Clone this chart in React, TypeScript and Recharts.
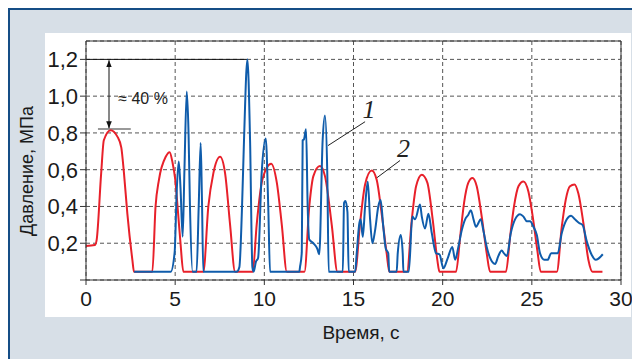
import React from 'react';
import { LineChart, Line, XAxis, YAxis, CartesianGrid, ReferenceLine, ReferenceDot } from 'recharts';

// curve 2 (red): time, s / pressure, MPa
const redT = [0, 0.5, 0.6, 0.85, 1.0, 1.38, 1.76, 1.98, 2.13, 2.32, 2.6, 2.69, 3.72, 3.9, 4.09, 4.47, 4.69, 4.85, 5.0, 5.15, 5.3, 5.46,
  6.58, 6.86, 7.14, 7.52, 7.8, 8.08, 8.36, 9.35, 9.57, 9.9, 10.38, 10.7, 10.98, 11.26,
  12.25, 12.52, 12.75, 13.12, 13.4, 13.78, 14.1, 15.09, 15.37, 15.65, 16.02, 16.3, 16.58, 16.86, 17.01,
  18.0, 18.27, 18.51, 18.83, 19.14, 19.44, 19.7, 19.82, 20.75, 20.98, 21.2, 21.44, 21.67, 21.91, 22.19, 22.47, 22.66,
  23.55, 23.78, 24.0, 24.25, 24.53, 24.81, 25.05, 25.31, 25.5, 26.4, 26.68, 26.9, 27.14, 27.39, 27.61, 27.89, 28.17, 28.4, 28.96];
const redP = [0.185, 0.19, 0.22, 0.58, 0.76, 0.815, 0.78, 0.72, 0.58, 0.36, 0.11, 0.045, 0.045, 0.4, 0.545, 0.67, 0.695, 0.64, 0.55, 0.38, 0.2, 0.045,
  0.045, 0.4, 0.58, 0.67, 0.58, 0.3, 0.045, 0.045, 0.3, 0.55, 0.633, 0.53, 0.3, 0.045,
  0.045, 0.4, 0.565, 0.62, 0.565, 0.3, 0.045, 0.045, 0.31, 0.52, 0.595, 0.545, 0.36, 0.145, 0.045,
  0.045, 0.33, 0.51, 0.573, 0.53, 0.33, 0.11, 0.045, 0.045, 0.235, 0.42, 0.53, 0.555, 0.51, 0.345, 0.145, 0.045,
  0.045, 0.235, 0.4, 0.51, 0.536, 0.48, 0.345, 0.16, 0.045, 0.045, 0.29, 0.436, 0.51, 0.52, 0.47, 0.31, 0.11, 0.045, 0.045];

// curve 1 (blue)
const blueT = [2.7, 4.75, 4.97, 5.09, 5.2, 5.3, 5.42, 5.52, 5.65, 5.75, 5.83, 5.98, 6.2, 6.32, 6.43, 6.5, 6.58,
  8.45, 8.6, 8.75, 8.86, 9.05, 9.2, 9.33, 9.4, 9.53, 9.65, 9.85, 10.08, 10.22, 10.32,
  11.96, 12.0, 12.1, 12.15, 12.22, 12.34, 12.43, 12.52, 12.75, 12.97, 13.08, 13.27, 13.4, 13.53, 13.61,
  14.4, 14.47, 14.55, 14.66, 14.73, 15.09, 15.18, 15.33, 15.4, 15.52, 15.65, 15.8, 15.93, 16.06, 16.21, 16.39, 16.52, 16.67, 16.81, 16.95, 17.0,
  17.42, 17.48, 17.65, 17.76, 17.8, 18.1, 18.3, 18.45, 18.73, 18.83, 19.01, 19.2, 19.39, 19.63, 19.82,
  20.04, 20.27, 20.54, 20.7, 20.88, 21.07, 21.26, 21.44, 21.58, 21.73, 21.87, 22.14, 22.28, 22.47, 22.66, 22.94,
  23.12, 23.31, 23.44, 23.6, 23.82, 24.06, 24.34, 24.53, 24.72, 24.9, 25.09, 25.28, 25.46, 25.7, 25.89,
  26.08, 26.45, 26.68, 26.96, 27.2, 27.42, 27.65, 27.84, 28.08, 28.36, 28.58, 28.98];
const blueP = [0.045, 0.045, 0.15, 0.49, 0.645, 0.5, 0.235, 0.6, 1.025, 0.8, 0.4, 0.045, 0.045, 0.4, 0.745, 0.45, 0.045,
  0.045, 0.07, 0.4, 0.76, 1.2, 0.76, 0.07, 0.045, 0.1, 0.12, 0.58, 0.77, 0.4, 0.045,
  0.045, 0.07, 0.15, 0.76, 0.765, 0.82, 0.4, 0.22, 0.2, 0.17, 0.14, 0.76, 0.895, 0.58, 0.045,
  0.045, 0.42, 0.43, 0.37, 0.045, 0.045, 0.145, 0.31, 0.33, 0.235, 0.4, 0.535, 0.33, 0.2, 0.27, 0.4, 0.435, 0.29, 0.17, 0.145, 0.045,
  0.045, 0.145, 0.245, 0.145, 0.045, 0.045, 0.345, 0.33, 0.41, 0.345, 0.28, 0.36, 0.255, 0.145, 0.14,
  0.064, 0.115, 0.18, 0.11, 0.18, 0.27, 0.33, 0.355, 0.38, 0.33, 0.29, 0.33, 0.27, 0.18, 0.12, 0.087,
  0.13, 0.16, 0.145, 0.13, 0.255, 0.33, 0.358, 0.345, 0.32, 0.32, 0.29, 0.245, 0.145, 0.11, 0.11,
  0.145, 0.145, 0.255, 0.33, 0.35, 0.33, 0.31, 0.3, 0.21, 0.136, 0.11, 0.14];

const xTicks = [0, 5, 10, 15, 20, 25, 30];
const yTicks = [0, 0.2, 0.4, 0.6, 0.8, 1.0, 1.2];

const redData = redT.map((t, i) => ({ t, p: redP[i] }));
const blueData = blueT.map((t, i) => ({ t, p: blueP[i] }));

const FONT = '"Liberation Sans", Arial, Helvetica, sans-serif';

const fmtY = (v: number) => (v === 0 ? '' : v.toFixed(1).replace('.', ','));

const arrowLine = (props: any) => (
  <g>
    <defs>
      <marker id="ah" viewBox="0 0 10 10" refX="10" refY="5" markerWidth="7" markerHeight="9" orient="auto-start-reverse">
        <path d="M0,1 L10,5 L0,9 z" fill="#111" />
      </marker>
    </defs>
    <line x1={props.x1} y1={props.y1} x2={props.x2} y2={props.y2} stroke="#111" strokeWidth={1}
      markerStart="url(#ah)" markerEnd="url(#ah)" />
  </g>
);

const App = () => {
  return (
    <div style={{ position: 'relative', width: 632, height: 351, background: '#d7dfe7', fontFamily: FONT }}>
      <div style={{ position: 'absolute', left: 0, top: 0, width: 632, height: 2, background: '#154d86' }} />
      <div style={{ position: 'absolute', left: 0, top: 0, width: 2, height: 351, background: '#154d86' }} />
      <div style={{ position: 'absolute', left: 37, top: 25, width: 586, height: 284, background: '#fff' }} />
      <div style={{ position: 'absolute', left: 0, top: 0 }}>
        <LineChart width={632} height={351} margin={{ top: 33, right: 19, left: 0, bottom: 0 }}>
          <CartesianGrid stroke="#555" strokeDasharray="4 3" />
          <XAxis type="number" dataKey="t" domain={[0, 30]} ticks={xTicks} height={79}
            tickSize={5} tickMargin={6} stroke="#333"
            tick={{ fill: '#1a1a1a', fontSize: 21, fontFamily: FONT }} />
          <YAxis type="number" dataKey="p" domain={[0, 1.3]} ticks={yTicks} width={78}
            tickSize={6} tickMargin={2} stroke="#333" tickFormatter={fmtY}
            tick={{ fill: '#1a1a1a', fontSize: 22, fontFamily: FONT }} />
          <ReferenceLine y={1.3} stroke="#333" />
          <ReferenceLine x={30} stroke="#333" />
          <ReferenceLine segment={[{ x: 0, y: 1.2 }, { x: 9.05, y: 1.2 }]} stroke="#111" />
          <ReferenceLine segment={[{ x: 0.67, y: 0.822 }, { x: 2.51, y: 0.822 }]} stroke="#777" strokeWidth={1.5} />
          <ReferenceLine segment={[{ x: 1.29, y: 1.195 }, { x: 1.29, y: 0.825 }]} shape={arrowLine} />
          <ReferenceLine segment={[{ x: 13.57, y: 0.731 }, { x: 15.65, y: 0.861 }]} stroke="#222" />
          <ReferenceLine segment={[{ x: 16.26, y: 0.5525 }, { x: 17.61, y: 0.65 }]} stroke="#222" />
          <Line data={redData} dataKey="p" type="monotone" stroke="#e8202a" strokeWidth={2} dot={false} isAnimationActive={false} />
          <Line data={blueData} dataKey="p" type="monotone" stroke="#0f5cab" strokeWidth={2} dot={false} isAnimationActive={false} />
          <ReferenceDot x={3.2} y={0.99} r={0} fill="none" stroke="none"
            label={{ value: '≈ 40 %', position: 'center', fontSize: 16, fill: '#222', fontFamily: FONT }} />
          <ReferenceDot x={15.87} y={0.932} r={0} fill="none" stroke="none"
            label={{ value: '1', position: 'center', fontSize: 26, fill: '#222', fontStyle: 'italic', fontFamily: '"Liberation Serif", serif' }} />
          <ReferenceDot x={17.81} y={0.72} r={0} fill="none" stroke="none"
            label={{ value: '2', position: 'center', fontSize: 26, fill: '#222', fontStyle: 'italic', fontFamily: '"Liberation Serif", serif' }} />
        </LineChart>
      </div>
      <div style={{ position: 'absolute', left: 19, top: 163, transform: 'translate(-50%, -50%) rotate(-90deg)', whiteSpace: 'nowrap', fontSize: 18, color: '#1a1a1a' }}>
        Давление, МПа
      </div>
      <div style={{ position: 'absolute', left: 353, top: 325, transform: 'translate(-50%, -50%)', whiteSpace: 'nowrap', fontSize: 19, color: '#1a1a1a' }}>
        Время, с
      </div>
    </div>
  );
};

export default App;
